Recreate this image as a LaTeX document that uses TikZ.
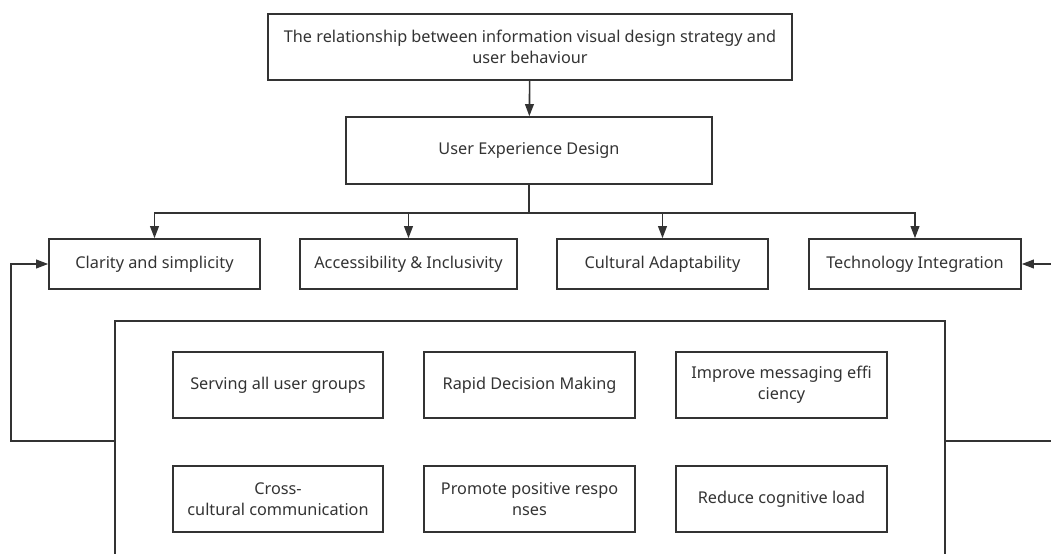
\documentclass[tikz,border=0pt]{standalone}
\usepackage{fontspec}
\setmainfont{Noto Sans}
\usetikzlibrary{arrows.meta}

\definecolor{linegray}{HTML}{333333}

\begin{document}
\begin{tikzpicture}[x=0.75pt, y=-0.75pt,
    >={Triangle[length=9pt, width=6.5pt]},
    box/.style={draw=linegray, line width=1.2pt, text=linegray,
        align=center, font=\fontsize{12.2}{16}\selectfont, inner sep=0pt},
    link/.style={draw=linegray, line width=1.2pt}]
    % 画布范围（下方和右侧被截断）
    \clip (0,0) rectangle (1051,554);

    % 顶层标题与中间层
    \node[box, minimum width=524*0.75pt, minimum height=66*0.75pt] (title) at (530,47)
        {The relationship between information visual design strategy and\\ user behaviour};
    \node[box, minimum width=366*0.75pt, minimum height=67*0.75pt] (ued) at (529,150.5)
        {User Experience Design};

    % 四个设计原则
    \node[box, minimum width=211*0.75pt, minimum height=50*0.75pt] (clarity) at (154.5,264)
        {Clarity and simplicity};
    \node[box, minimum width=217*0.75pt, minimum height=50*0.75pt] (access) at (408.5,264)
        {Accessibility \& Inclusivity};
    \node[box, minimum width=211*0.75pt, minimum height=50*0.75pt] (culture) at (662.5,264)
        {Cultural Adaptability};
    \node[box, minimum width=212*0.75pt, minimum height=50*0.75pt] (tech) at (915,264)
        {Technology Integration};

    % 外框（效果）
    \node[box, minimum width=830*0.75pt, minimum height=240*0.75pt] (effects) at (530,441) {};

    % 六个效果
    \node[box, minimum width=210*0.75pt, minimum height=66*0.75pt] (serve) at (278,385)
        {Serving all user groups};
    \node[box, minimum width=211*0.75pt, minimum height=66*0.75pt] (rapid) at (529.5,385)
        {Rapid Decision Making};
    \node[box, minimum width=211*0.75pt, minimum height=66*0.75pt] (improve) at (781.5,385)
        {Improve messaging effi\\ ciency};
    \node[box, minimum width=210*0.75pt, minimum height=66*0.75pt] (cross) at (278,499)
        {Cross-\\ cultural communication};
    \node[box, minimum width=211*0.75pt, minimum height=66*0.75pt] (promote) at (529.5,499)
        {Promote positive respo\\ nses};
    \node[box, minimum width=211*0.75pt, minimum height=66*0.75pt] (reduce) at (781.5,499)
        {Reduce cognitive load};

    % 连线
    \draw[link, ->] (title) -- (ued);
    \foreach \n in {clarity, access, culture, tech}
        \draw[link, ->] (ued.south) -- ++(0,28) -| (\n.north);

    % 反馈回路
    \draw[link, ->] (effects.west) -- ++(-103,0) |- (clarity.west);
    \draw[link, ->] (effects.east) -- ++(120,0) |- (tech.east);

\end{tikzpicture}
\end{document}
